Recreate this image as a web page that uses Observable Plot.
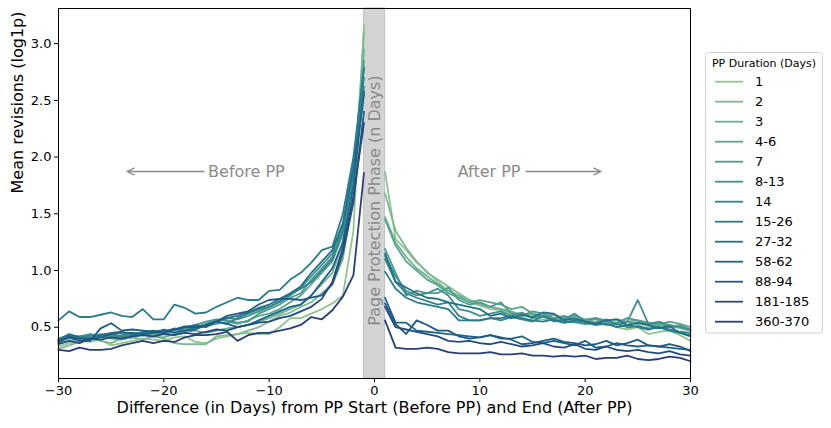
<!DOCTYPE html>
<html>
<head>
<meta charset="utf-8">
<script src="https://cdn.jsdelivr.net/npm/d3@7"></script>
<script src="https://cdn.jsdelivr.net/npm/@observablehq/plot@0.6"></script>
<style>
  html, body { margin: 0; padding: 0; background: white; }
  #chart { width: 831px; height: 428px; }
</style>
</head>
<body>
<div id="chart"></div>
<script>
// ---- data ----
const labels = ["1","2","3","4-6","7","8-13","14","15-26","27-32","58-62","88-94","181-185","360-370"];
const palette = ["#91c491","#7dba91","#6bb091","#59a590","#4d9a8f","#40908e","#34858d","#287a8c","#226f8a","#1c6488","#215884","#254b7f","#293e79"];
const beforeDays = [-30,-29,-28,-27,-26,-25,-24,-23,-22,-21,-20,-19,-18,-17,-16,-15,-14,-13,-12,-11,-10,-9,-8,-7,-6,-5,-4,-3,-2,-1];
const afterDays = [1,2,3,4,5,6,7,8,9,10,11,12,13,14,15,16,17,18,19,20,21,22,23,24,25,26,27,28,29,30];
const xTicks = [-30,-20,-10,0,10,20,30];
const yTicks = [0.5,1.0,1.5,2.0,2.5,3.0];

const before_1 = [0.33,0.36,0.38,0.37,0.39,0.34,0.36,0.38,0.40,0.39,0.38,0.41,0.42,0.37,0.36,0.40,0.42,0.44,0.45,0.44,0.44,0.50,0.58,0.58,0.62,0.66,0.71,0.78,1.35,3.17];
const before_2 = [0.31,0.34,0.37,0.40,0.38,0.36,0.40,0.41,0.39,0.42,0.40,0.36,0.35,0.35,0.35,0.42,0.43,0.44,0.47,0.50,0.55,0.60,0.63,0.68,0.72,0.80,0.88,1.10,1.70,3.10];
const before_3 = [0.36,0.38,0.40,0.41,0.42,0.40,0.39,0.41,0.43,0.42,0.41,0.44,0.46,0.47,0.45,0.47,0.49,0.50,0.52,0.55,0.58,0.62,0.66,0.70,0.78,0.88,0.98,1.25,1.80,2.95];
const before_4_6 = [0.38,0.40,0.42,0.41,0.43,0.42,0.40,0.42,0.44,0.43,0.45,0.48,0.50,0.49,0.51,0.53,0.55,0.53,0.56,0.60,0.62,0.66,0.72,0.78,0.88,0.98,1.08,1.32,1.85,2.85];
const before_7 = [0.37,0.41,0.39,0.42,0.44,0.43,0.41,0.44,0.43,0.45,0.44,0.46,0.49,0.52,0.55,0.57,0.56,0.54,0.55,0.62,0.66,0.70,0.76,0.80,0.92,1.02,1.12,1.38,1.90,2.80];
const before_8_13 = [0.40,0.43,0.42,0.44,0.42,0.41,0.43,0.45,0.44,0.46,0.47,0.48,0.51,0.50,0.53,0.56,0.58,0.57,0.60,0.64,0.68,0.72,0.78,0.85,0.95,1.05,1.15,1.40,1.95,2.70];
const before_14 = [0.38,0.42,0.40,0.43,0.41,0.44,0.42,0.43,0.46,0.45,0.46,0.49,0.47,0.50,0.52,0.55,0.53,0.58,0.62,0.66,0.68,0.73,0.79,0.84,0.90,1.00,1.10,1.35,1.85,2.62];
const before_15_26 = [0.56,0.64,0.59,0.59,0.61,0.63,0.60,0.59,0.66,0.57,0.57,0.70,0.67,0.62,0.63,0.68,0.72,0.76,0.74,0.74,0.82,0.83,0.92,0.98,1.07,1.18,1.21,1.50,2.00,2.78];
const before_27_32 = [0.39,0.44,0.41,0.40,0.43,0.45,0.46,0.44,0.45,0.47,0.46,0.48,0.50,0.52,0.50,0.55,0.58,0.60,0.63,0.67,0.70,0.75,0.80,0.86,0.98,1.08,1.18,1.42,1.90,2.55];
const before_58_62 = [0.36,0.42,0.40,0.39,0.41,0.44,0.45,0.45,0.44,0.45,0.48,0.45,0.47,0.48,0.52,0.55,0.53,0.50,0.52,0.56,0.60,0.64,0.68,0.70,0.78,0.90,1.02,1.25,1.75,2.58];
const before_88_94 = [0.38,0.41,0.38,0.38,0.49,0.535,0.47,0.48,0.47,0.46,0.45,0.48,0.50,0.50,0.51,0.55,0.60,0.62,0.64,0.70,0.74,0.75,0.75,0.74,0.76,0.78,0.88,1.15,1.60,2.40];
const before_181_185 = [0.35,0.38,0.36,0.40,0.39,0.41,0.40,0.42,0.43,0.42,0.44,0.43,0.45,0.44,0.46,0.48,0.47,0.50,0.52,0.54,0.55,0.58,0.60,0.64,0.68,0.75,0.90,1.20,1.65,2.30];
const before_360_370 = [0.30,0.29,0.32,0.30,0.30,0.31,0.34,0.36,0.38,0.36,0.38,0.37,0.41,0.43,0.43,0.44,0.46,0.38,0.43,0.45,0.45,0.47,0.49,0.52,0.59,0.57,0.65,0.77,0.96,1.86];

const after_1 = [1.87,1.28,1.18,1.07,0.99,0.90,0.82,0.77,0.72,0.69,0.66,0.65,0.62,0.61,0.58,0.57,0.56,0.55,0.54,0.53,0.52,0.55,0.50,0.48,0.50,0.44,0.46,0.47,0.43,0.38];
const after_2 = [1.68,1.35,1.20,1.08,0.98,0.92,0.86,0.80,0.74,0.70,0.68,0.66,0.63,0.62,0.61,0.60,0.58,0.56,0.57,0.55,0.54,0.56,0.53,0.52,0.54,0.51,0.50,0.52,0.49,0.47];
const after_3 = [1.47,1.25,1.12,1.02,0.95,0.88,0.82,0.78,0.74,0.71,0.68,0.66,0.64,0.60,0.62,0.59,0.57,0.59,0.56,0.55,0.57,0.54,0.53,0.55,0.52,0.53,0.51,0.50,0.52,0.48];
const after_4_6 = [1.45,1.22,1.08,1.00,0.92,0.87,0.80,0.76,0.72,0.74,0.72,0.70,0.66,0.68,0.62,0.60,0.61,0.58,0.60,0.57,0.58,0.56,0.57,0.55,0.56,0.54,0.52,0.55,0.53,0.50];
const after_7 = [1.19,0.98,0.78,0.82,0.80,0.80,0.85,0.74,0.70,0.72,0.68,0.72,0.62,0.60,0.64,0.62,0.58,0.60,0.57,0.56,0.58,0.55,0.54,0.58,0.56,0.53,0.55,0.52,0.50,0.47];
const after_8_13 = [1.13,0.95,0.82,0.78,0.80,0.84,0.78,0.66,0.64,0.60,0.62,0.64,0.60,0.63,0.58,0.60,0.55,0.57,0.62,0.55,0.54,0.57,0.52,0.55,0.74,0.53,0.54,0.50,0.51,0.48];
const after_14 = [1.10,0.90,0.80,0.76,0.73,0.70,0.72,0.60,0.56,0.56,0.58,0.56,0.59,0.57,0.55,0.60,0.56,0.54,0.55,0.53,0.54,0.52,0.53,0.50,0.51,0.49,0.50,0.48,0.46,0.45];
const after_15_26 = [0.99,0.84,0.76,0.72,0.70,0.68,0.66,0.56,0.56,0.56,0.58,0.58,0.60,0.58,0.56,0.55,0.57,0.54,0.56,0.55,0.52,0.53,0.50,0.52,0.50,0.48,0.50,0.47,0.45,0.43];
const after_27_32 = [1.15,0.90,0.85,0.80,0.76,0.75,0.72,0.70,0.68,0.66,0.60,0.62,0.58,0.61,0.59,0.63,0.62,0.56,0.58,0.55,0.53,0.56,0.57,0.52,0.54,0.52,0.49,0.51,0.45,0.42];
const after_58_62 = [0.76,0.54,0.54,0.47,0.46,0.45,0.44,0.43,0.42,0.41,0.43,0.40,0.40,0.42,0.37,0.36,0.38,0.36,0.34,0.38,0.32,0.33,0.36,0.34,0.33,0.34,0.33,0.32,0.31,0.30];
const after_88_94 = [0.71,0.53,0.44,0.56,0.52,0.47,0.47,0.42,0.40,0.41,0.43,0.41,0.39,0.35,0.36,0.38,0.40,0.37,0.36,0.34,0.35,0.38,0.34,0.36,0.39,0.34,0.33,0.35,0.33,0.29];
const after_181_185 = [0.68,0.50,0.48,0.46,0.44,0.42,0.38,0.37,0.38,0.36,0.35,0.37,0.35,0.33,0.34,0.36,0.33,0.32,0.35,0.31,0.30,0.33,0.30,0.29,0.30,0.28,0.27,0.29,0.26,0.25];
const after_360_370 = [0.56,0.32,0.31,0.31,0.32,0.31,0.28,0.27,0.27,0.27,0.28,0.26,0.26,0.27,0.25,0.25,0.24,0.25,0.24,0.25,0.22,0.23,0.23,0.25,0.22,0.21,0.22,0.24,0.23,0.20];

const beforeSeries = [before_1,before_2,before_3,before_4_6,before_7,before_8_13,before_14,before_15_26,before_27_32,before_58_62,before_88_94,before_181_185,before_360_370];
const afterSeries = [after_1,after_2,after_3,after_4_6,after_7,after_8_13,after_14,after_15_26,after_27_32,after_58_62,after_88_94,after_181_185,after_360_370];

const band = [{x1: -1, x2: 1}];
const annotations = [
  {x: -15.8, y: 1.873, text: "Before PP"},
  {x: 7.9, y: 1.873, text: "After PP"}
];
const arrows = [
  {x1: -16.2, x2: -23.5, y: 1.873},
  {x1: 14.4, x2: 21.5, y: 1.873}
];
const xLabel = "Difference (in Days) from PP Start (Before PP) and End (After PP)";
const yLabel = "Mean revisions (log1p)";
const bandLabel = "Page Protection Phase (n Days)";
const legendTitle = "PP Duration (Days)";

// ---- table ----
const rows = [];
labels.forEach((lab, i) => {
  beforeDays.forEach((d, j) => rows.push({series: lab, key: lab + "_b", day: d, value: beforeSeries[i][j]}));
  afterDays.forEach((d, j) => rows.push({series: lab, key: lab + "_a", day: d, value: afterSeries[i][j]}));
});

const chart = Plot.plot({
  width: 831,
  height: 428,
  marginLeft: 58,
  marginRight: 141,
  marginTop: 8,
  marginBottom: 50,
  style: {fontFamily: "DejaVu Sans", fontSize: "13px", color: "#000", background: "white", overflow: "visible"},
  x: {domain: [-30, 30]},
  y: {domain: [0.048, 3.31]},
  color: {domain: labels, range: palette},
  marks: [
    Plot.rect(band, {x1: "x1", x2: "x2", fill: "#d3d3d3", stroke: "#c2c2c2", strokeWidth: 1}),
    Plot.line(rows, {x: "day", y: "value", z: "key", stroke: "series", strokeWidth: 1.8, curve: "linear"}),
    Plot.text([bandLabel], {x: 0, y: 1.617, text: d => d, rotate: -90, fill: "#8a8a8a", fontSize: 16}),
    Plot.text(annotations, {x: "x", y: "y", text: "text", textAnchor: "start", fill: "#8a8a8a", fontSize: 16}),
    Plot.arrow(arrows, {x1: "x1", x2: "x2", y1: "y", y2: "y", stroke: "#8a8a8a", strokeWidth: 1.3, headLength: 9, headAngle: 50}),
    Plot.frame({stroke: "#000", strokeWidth: 1}),
    Plot.axisX({ticks: xTicks, tickSize: 4, tickPadding: 3, tickFormat: d3.format("d"), label: null, fontSize: 13}),
    Plot.axisY({ticks: yTicks, tickSize: 4, tickPadding: 3, tickFormat: d3.format(".1f"), label: null, fontSize: 13}),
    Plot.text([xLabel], {frameAnchor: "bottom", text: d => d, dy: 34, fontSize: 16, fill: "#000"}),
    Plot.text([yLabel], {frameAnchor: "left", text: d => d, dx: -41, rotate: -90, fontSize: 16, fill: "#000"})
  ]
});

document.getElementById("chart").appendChild(chart);

// ---- legend ----
const svg = d3.select(chart);
const lg = svg.append("g").attr("font-family", "DejaVu Sans").attr("text-anchor", "start");
lg.append("rect")
  .attr("x", 705.5).attr("y", 52.5).attr("width", 117).attr("height", 280.5)
  .attr("rx", 3).attr("fill", "white").attr("stroke", "#d0d0d0");
lg.append("text")
  .attr("x", 764).attr("y", 63).attr("text-anchor", "middle").attr("dy", "0.35em")
  .attr("font-size", 11).attr("fill", "#000").text(legendTitle);
labels.forEach((lab, i) => {
  const yy = 81.7 + 20 * i;
  lg.append("line").attr("x1", 715).attr("x2", 743).attr("y1", yy).attr("y2", yy)
    .attr("stroke", palette[i]).attr("stroke-width", 1.8);
  lg.append("text").attr("x", 755).attr("y", yy).attr("dy", "0.35em")
    .attr("text-anchor", "start")
    .attr("font-size", 13).attr("fill", "#000").text(lab);
});
</script>
</body>
</html>
